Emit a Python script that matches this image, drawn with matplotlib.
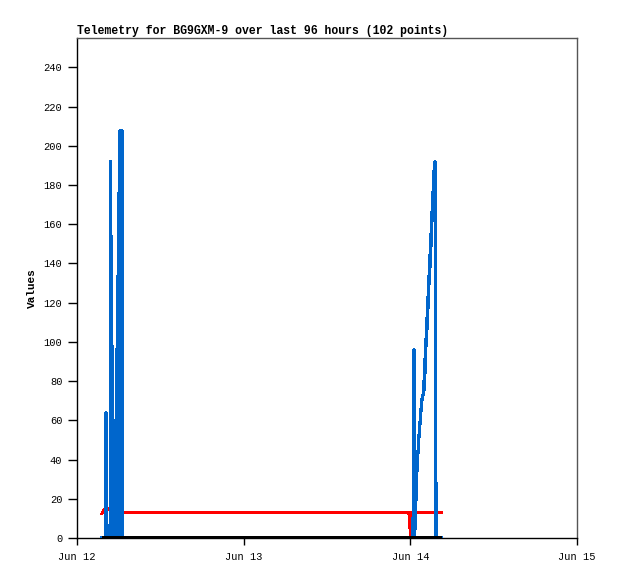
# telemetry chart
import matplotlib
matplotlib.use('Agg')
import matplotlib.pyplot as plt
import matplotlib.dates as mdates
import pandas as pd

title = 'Telemetry for BG9GXM-9 over last 96 hours (102 points)'

# blue series
blue_t = ['06-12 03:36', '06-12 04:08', '06-12 04:10', '06-12 04:16', '06-12 04:18',
          '06-12 04:46', '06-12 04:48', '06-12 04:54',
          '06-12 04:56', '06-12 04:59', '06-12 05:05', '06-12 05:07', '06-12 05:33',
          '06-12 05:35', '06-12 05:37', '06-12 05:43', '06-12 05:49', '06-12 05:51',
          '06-12 05:56', '06-12 06:03', '06-12 06:06', '06-12 06:12', '06-12 06:20',
          '06-12 06:24', '06-12 06:28', '06-12 06:33', '06-12 06:37',
          '06-14 00:23', '06-14 00:32', '06-14 00:37', '06-14 00:42', '06-14 00:45',
          '06-14 00:49', '06-14 01:00', '06-14 01:15', '06-14 01:30', '06-14 01:43',
          '06-14 01:57', '06-14 01:58', '06-14 02:06', '06-14 02:07', '06-14 02:14',
          '06-14 02:15', '06-14 02:23', '06-14 02:24', '06-14 02:32', '06-14 02:33',
          '06-14 02:40', '06-14 02:41', '06-14 02:49', '06-14 02:50', '06-14 02:58',
          '06-14 02:59', '06-14 03:06', '06-14 03:07', '06-14 03:15', '06-14 03:16',
          '06-14 03:24', '06-14 03:25', '06-14 03:32', '06-14 03:33',
          '06-14 03:38', '06-14 03:42', '06-14 04:25']
blue_v = [0, 0, 64, 48, 0,
          0, 192, 145,
          0, 108, 84, 0, 0,
          60, 0, 96, 84, 0,
          160, 176, 0, 208, 208,
          0, 208, 0, 0,
          0, 96, 0, 24, 5,
          24, 38, 52, 64, 72,
          74, 80, 84, 91, 95,
          101, 106, 112, 117, 123,
          127, 133, 138, 144, 149,
          155, 160, 166, 171, 176,
          182, 187, 189, 192,
          97, 0, 0]

red_t = ['06-12 03:36', '06-12 03:53', '06-12 05:15', '06-12 05:20',
         '06-13 23:48', '06-13 23:57', '06-14 00:02', '06-14 00:07', '06-14 04:25']
red_v = [12.5, 14.5, 15, 13, 13, 6, 0, 13, 13]

black_t = ['06-12 03:36', '06-14 04:25']
black_v = [0, 0]

def to_dt(ts):
    return pd.to_datetime(['2024-' + t for t in ts], format='%Y-%m-%d %H:%M')

fig = plt.figure(figsize=(6.18, 5.79), dpi=100)
ax = fig.add_axes([77 / 618, 41 / 579, 500 / 618, 500 / 579])

ax.plot(to_dt(red_t), red_v, color='#ff0000', lw=1.6, zorder=2, antialiased=False)
ax.plot(to_dt(blue_t), blue_v, color='#0066cc', lw=1.6, zorder=3, antialiased=False)
ax.plot(to_dt(black_t), black_v, color='black', lw=2.2, zorder=4,
        solid_capstyle='butt', antialiased=False)

ax.set_xlim(pd.Timestamp('2024-06-12'), pd.Timestamp('2024-06-15'))
ax.set_ylim(0, 255)
ax.set_yticks(range(0, 241, 20))
ax.xaxis.set_major_locator(mdates.DayLocator())
ax.xaxis.set_major_formatter(mdates.DateFormatter('%b %d'))

mono = 'Liberation Mono'
for lab in ax.get_xticklabels() + ax.get_yticklabels():
    lab.set_family(mono)
    lab.set_fontsize(7.5)
ax.tick_params(axis='y', length=6.5, width=1, pad=4)
ax.tick_params(axis='x', length=5, width=1, pad=5)

ax.spines['top'].set_color('#555555')
ax.spines['right'].set_color('#555555')
for s in ax.spines.values():
    s.set_linewidth(1)

ax.set_ylabel('Values', family=mono, fontsize=8, fontweight='bold', labelpad=5)
ax.set_title(title, family=mono, fontsize=8.3, fontweight='bold', loc='left', pad=3)

fig.savefig('out.png', dpi=100)
